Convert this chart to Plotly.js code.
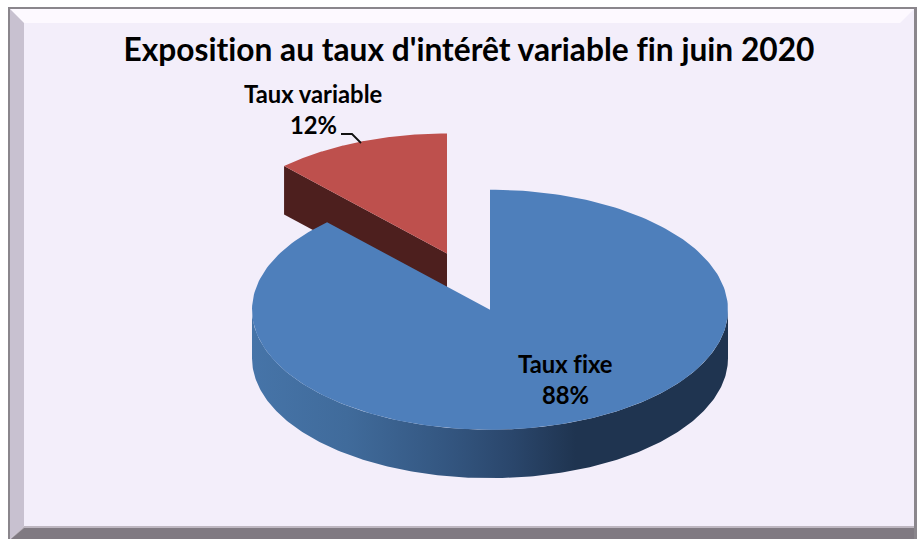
<!DOCTYPE html>
<html><head><meta charset="utf-8">
<script src="https://cdn.plot.ly/plotly-3.0.1.min.js"></script>
<style>html,body{margin:0;padding:0;background:#fff}#c{width:917px;height:539px}svg text{font-variant-ligatures:none;font-feature-settings:"liga" 0,"clig" 0}</style>
</head><body><div id="c"></div>
<script>
const chartTitle = "Exposition au taux d'intérêt variable fin juin 2020";
const categories = ["Taux fixe", "Taux variable"];
const shares = [88, 12];
const shareLabels = ["88%", "12%"];
const sliceColors = ["#4e7fbb", "#be504d"];

// Pixel-space geometry of the tilted pie
const RX = 238, RY = 120, DEPTH = 48.5;
const blueC = [490, 309.7], redC = [447, 253.5];
const total = shares.reduce((a, b) => a + b, 0);
const sweepRed = shares[1] / total * 2 * Math.PI;

function pt(c, a, dy) { return [c[0] + RX * Math.sin(a), c[1] - RY * Math.cos(a) + (dy || 0)]; }
function arc(c, a0, a1, dy) {
  const n = 240, out = [];
  for (let i = 0; i <= n; i++) out.push(pt(c, a0 + (a1 - a0) * i / n, dy));
  return out;
}
function poly(points, color, extra) {
  return Object.assign({
    type: "scatter", mode: "lines", x: points.map(p => p[0]), y: points.map(p => p[1]),
    fill: "toself", fillcolor: color, line: { width: 0, color: color }, hoverinfo: "skip", showlegend: false
  }, extra || {});
}

const redCorner = pt(redC, -sweepRed);
const redApex = redC;
const redSide = [redApex, redCorner, [redCorner[0], redCorner[1] + DEPTH], [redApex[0], redApex[1] + DEPTH], redApex];
const redTop = [redApex].concat(arc(redC, -sweepRed, 0)).concat([redApex]);
const blueFront = arc(blueC, Math.PI / 2, Math.PI * 1.5);
const blueBack = arc(blueC, Math.PI * 1.5, Math.PI / 2, DEPTH);
const blueSide = blueFront.concat(blueBack).concat([blueFront[0]]);
const blueTop = [blueC].concat(arc(blueC, 0, 2 * Math.PI - sweepRed)).concat([blueC]);

const traces = [
  poly(redSide, "#4d1f1e"),
  poly(redTop, sliceColors[1]),
  poly(blueSide, "#2c4a70", {
    fillgradient: {
      type: "horizontal", start: 252, stop: 728,
      colorscale: [[0, "#4674a8"], [0.2, "#406b9b"], [0.42, "#33557f"], [0.55, "#2a466b"], [0.68, "#1f3450"], [1, "#1f3450"]]
    }
  }),
  poly(blueTop, sliceColors[0]),
  { type: "scatter", mode: "lines", x: [341, 352, 361], y: [134, 134, 143],
    line: { color: "#111111", width: 1.8 }, hoverinfo: "skip", showlegend: false }
];

function rect(x0, y0, x1, y1, c) { return { type: "rect", layer: "below", xref: "x", yref: "y", x0, y0, x1, y1, fillcolor: c, line: { width: 0 } }; }
function path(d, c) { return { type: "path", layer: "below", xref: "x", yref: "y", path: d, fillcolor: c, line: { width: 0 } }; }
const shapes = [
  rect(8, 7, 917, 539, "#8a868c"),
  rect(10, 9, 914, 539, "#f3eefa"),
  path("M10,9 L914,9 L900,23 L24,23 Z", "#fdf9ff"),
  path("M10,9 L24,23 L24,526 L10,539 Z", "#c8c1d0"),
  path("M24,526 L914,526 L914,539 L10,539 Z", "#bdb6c0"),
  path("M24,528 L914,528 L914,539 L11,539 Z", "#807a82"),
  rect(914, 20, 917, 539, "#8a868c")
];

function lab(t, x, y) {
  return { text: "<b>" + t + "</b>", x, y, xref: "x", yref: "y", xanchor: "center", yanchor: "middle", showarrow: false,
           font: { family: "Lato, Carlito, sans-serif", size: 23.8, color: "#000000" } };
}

Plotly.newPlot("c", traces, {
  width: 917, height: 539, margin: { l: 0, r: 0, t: 0, b: 0 },
  paper_bgcolor: "#ffffff", plot_bgcolor: "rgba(0,0,0,0)", showlegend: false,
  title: { text: "<b>" + chartTitle + "</b>", x: 469 / 917, xref: "paper", xanchor: "center", y: 1 - 50 / 539, yref: "paper", yanchor: "middle",
           font: { family: "Lato, Carlito, sans-serif", size: 31.7, color: "#000000" } },
  xaxis: { range: [0, 917], visible: false, fixedrange: true },
  yaxis: { range: [539, 0], visible: false, fixedrange: true },
  shapes,
  annotations: [
    lab(categories[1], 313, 94), lab(shareLabels[1], 313, 125),
    lab(categories[0], 565, 364), lab(shareLabels[0], 565, 395)
  ]
}, { displayModeBar: false, staticPlot: true });
</script></body></html>
